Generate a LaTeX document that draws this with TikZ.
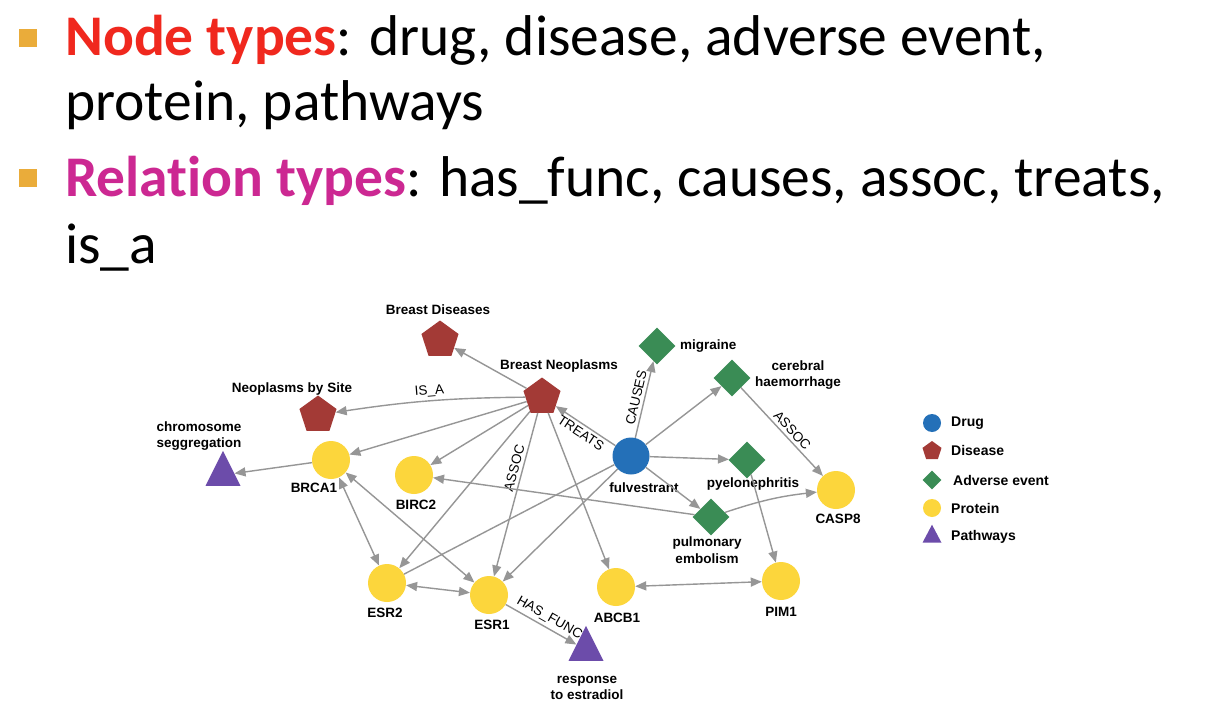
\documentclass[tikz,border=0pt]{standalone}
\usepackage{fontspec}
\setmainfont{Carlito}[Ligatures=NoCommon]
\newfontfamily\graphfont{Liberation Sans}
\usetikzlibrary{shapes.geometric,arrows.meta}

\definecolor{drugblue}{RGB}{36,112,184}
\definecolor{disred}{RGB}{163,58,54}
\definecolor{aegreen}{RGB}{58,140,85}
\definecolor{protyel}{RGB}{252,214,60}
\definecolor{pathpurp}{RGB}{108,76,170}
\definecolor{edgegray}{RGB}{150,150,150}
\definecolor{titlered}{RGB}{240,40,30}
\definecolor{titlemag}{RGB}{204,40,146}
\definecolor{bulletor}{RGB}{234,172,58}

\tikzset{
  drug/.style={circle, fill=drugblue, minimum size=37pt, inner sep=0},
  disease/.style={regular polygon, regular polygon sides=5, fill=disred, minimum size=39pt, inner sep=0},
  adverse/.style={diamond, fill=aegreen, minimum size=37pt, inner sep=0},
  protein/.style={circle, fill=protyel, minimum size=38pt, inner sep=0},
  pathway/.style={isosceles triangle, shape border rotate=90, isosceles triangle stretches,
    minimum width=35pt, minimum height=35pt, fill=pathpurp, inner sep=0},
  lbl/.style={font=\graphfont\bfseries\fontsize{13.5}{16.5}\selectfont, align=center, inner sep=0},
  lgtxt/.style={font=\graphfont\bfseries\fontsize{14}{16}\selectfont, anchor=west, inner sep=0},
  rlbl/.style={font=\graphfont\fontsize{13.5}{14}\selectfont, sloped, inner sep=3pt},
  rel/.style={draw=edgegray, line width=1.4pt, -{Triangle[length=11pt,width=9pt]}},
  both/.style={draw=edgegray, line width=1.4pt, {Triangle[length=11pt,width=9pt]}-{Triangle[length=11pt,width=9pt]}},
  plain/.style={draw=edgegray, line width=1.4pt},
  bullet/.style={fill=bulletor, minimum size=18pt, inner sep=0},
  line/.style={anchor=base west, inner sep=0, font=\fontsize{57.5}{60}\selectfont}
}

\begin{document}
\begin{tikzpicture}[x=1pt,y=-1pt]
	\useasboundingbox (0,0) rectangle (1221,725);
	\fill[white] (0,0) rectangle (1221,725);

	% bullet text
	\node[bullet] (b1) at (28,38) {};
	\node[line] (l1) at (65,56) {\textcolor{titlered}{\bfseries Node types}: drug, disease, adverse event,};
	\node[line] (l2) at (65,121) {protein, pathways};
	\node[bullet] (b2) at (28,178) {};
	\node[line] (l3) at (65,196) {\textcolor{titlemag}{\bfseries Relation types}: has\_func, causes, assoc, treats,};
	\node[line] (l4) at (65,263) {is\_a};

	% graph nodes
	\node[disease] (bdis) at (440,340) {};
	\node[disease] (bneo) at (542,397) {};
	\node[disease] (nsite) at (318,415) {};
	\node[pathway] (chrom) at (223,475) {};
	\node[protein] (brca1) at (331,460) {};
	\node[protein] (birc2) at (414,475) {};
	\node[drug] (fulv) at (631,456) {};
	\node[adverse] (migr) at (657,346) {};
	\node[adverse] (cereb) at (732,378) {};
	\node[adverse] (pyelo) at (747,460) {};
	\node[protein] (casp8) at (836,490) {};
	\node[adverse] (pulm) at (711,517) {};
	\node[protein] (esr2) at (387,583) {};
	\node[protein] (esr1) at (489,595) {};
	\node[protein] (abcb1) at (616,587) {};
	\node[protein] (pim1) at (781,581) {};
	\node[pathway] (resp) at (586,650) {};

	% node texts
	\node[lbl] (bdis-t) at (438,310) {Breast Diseases};
	\node[lbl] (bneo-t) at (559,366) {Breast Neoplasms};
	\node[lbl] (nsite-t) at (292,389) {Neoplasms by Site};
	\node[lbl] (chrom-t) at (199,436) {chromosome\\seggregation};
	\node[lbl] (brca1-t) at (314,488) {BRCA1};
	\node[lbl] (birc2-t) at (416,505) {BIRC2};
	\node[lbl] (fulv-t) at (644,488) {fulvestrant};
	\node[lbl, anchor=west] (migr-t) at (680,346) {migraine};
	\node[lbl] (cereb-t) at (798,375) {cerebral\\haemorrhage};
	\node[lbl] (pyelo-t) at (753,484) {pyelonephritis};
	\node[lbl] (casp8-t) at (838,519) {CASP8};
	\node[lbl] (pulm-t) at (707,550) {pulmonary\\embolism};
	\node[lbl] (esr2-t) at (385,613) {ESR2};
	\node[lbl] (esr1-t) at (492,625) {ESR1};
	\node[lbl] (abcb1-t) at (617,618) {ABCB1};
	\node[lbl] (pim1-t) at (781,612) {PIM1};
	\node[lbl] (resp-t) at (587,688) {response\\to estradiol};

	% relations
	\draw[rel] (bneo) -- (bdis);
	\draw[rel] (bneo) to[bend right=4] node[rlbl,above]{IS\_A} (nsite);
	\draw[rel] (bneo) -- (brca1);
	\draw[rel] (bneo) -- (birc2);
	\draw[rel] (bneo) -- (esr2);
	\draw[rel] (bneo) -- node[rlbl,above,pos=0.35]{ASSOC} (esr1);
	\draw[rel] (bneo) -- (abcb1);
	\draw[rel] (fulv) -- node[rlbl,below]{TREATS} (bneo);
	\draw[rel] (fulv) -- node[rlbl,above]{CAUSES} (migr);
	\draw[rel] (fulv) -- (cereb);
	\draw[rel] (fulv) -- (pyelo);
	\draw[rel] (fulv) -- (pulm);
	\draw[plain] (fulv) -- (esr2);
	\draw[rel] (fulv) -- (esr1);
	\draw[rel] (brca1) -- (chrom);
	\draw[both] (brca1) -- (esr2);
	\draw[both] (brca1) -- (esr1);
	\draw[both] (esr2) -- (esr1);
	\draw[both] (abcb1) -- (pim1);
	\draw[rel] (esr1) -- node[rlbl,above,pos=0.55]{HAS\_FUNC} (resp);
	\draw[rel] (cereb) -- node[rlbl,above,pos=0.55]{ASSOC} (casp8);
	\draw[rel] (pulm) to[bend left=6] (casp8);
	\draw[rel] (pulm) -- (birc2);
	\draw[rel] (pyelo) -- (pim1);

	% legend
	\node[drug, minimum size=18pt] (lg-drug) at (932,423) {};
	\node[disease, minimum size=20pt] (lg-dis) at (932,451) {};
	\node[adverse, minimum size=19pt] (lg-ae) at (932,480) {};
	\node[protein, minimum size=18pt] (lg-prot) at (932,508) {};
	\node[pathway, minimum width=19pt, minimum height=18pt] (lg-path) at (932,537) {};
	\node[lgtxt] (lg-drug-t) at (951,423) {Drug};
	\node[lgtxt] (lg-dis-t) at (951,450) {Disease};
	\node[lgtxt] (lg-ae-t) at (953,480) {Adverse event};
	\node[lgtxt] (lg-prot-t) at (951,508) {Protein};
	\node[lgtxt] (lg-path-t) at (951,537) {Pathways};
\end{tikzpicture}
\end{document}
